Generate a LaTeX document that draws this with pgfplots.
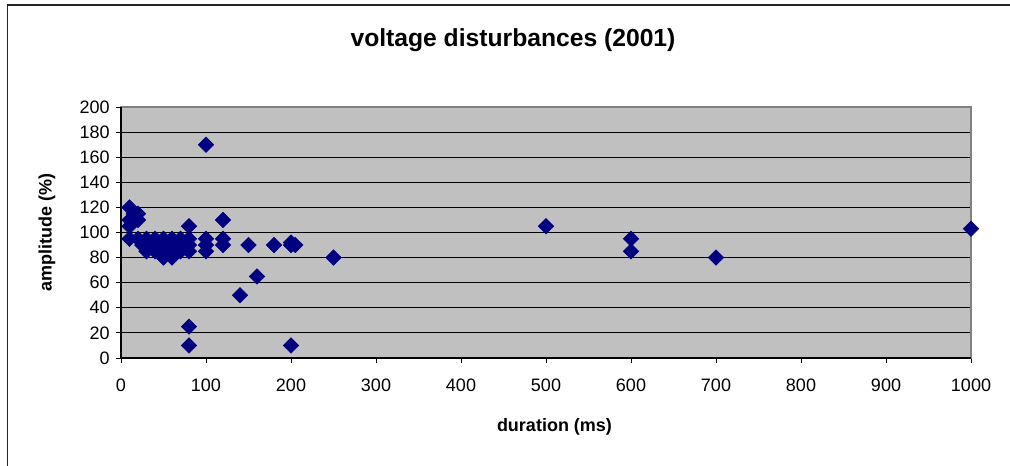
\documentclass[border=0pt]{standalone}
\usepackage{fontspec}
\setmainfont{Liberation Sans}
\usepackage{pgfplots}
\pgfplotsset{compat=1.18}
\definecolor{plotgray}{RGB}{192,192,192}
\definecolor{navymark}{RGB}{0,0,128}

\begin{document}
\begin{tikzpicture}
    % fixed page: 1010x466 px at 0.75pt/px, axis box at (121..971, 107..358)
    \useasboundingbox (-90.75pt,-81pt) rectangle (666.75pt,268.5pt);
    \draw[line width=1.1pt, black!85] (-85pt,-120pt) -- (-85pt,264.75pt) -- (720pt,264.75pt);
    \begin{axis}[
        name=ax,
        at={(0,0)}, anchor=south west,
        scale only axis,
        width=637.5pt, height=188.25pt,
        xmin=0, xmax=1000,
        ymin=0, ymax=200,
        xtick={0,100,...,1000},
        ytick={0,20,...,200},
        axis background/.style={fill=plotgray},
        axis line style={draw=gray, line width=1.2pt},
        ymajorgrids,
        major grid style={black, line width=0.6pt},
        tick style={black, line width=0.6pt},
        tick align=outside,
        major tick length=4pt,
        xtick pos=bottom, ytick pos=left,
        /pgf/number format/assume math mode=true,
        /pgf/number format/set thousands separator={},
        ticklabel style={font=\fontsize{13.5}{16}\selectfont},
        xticklabel style={yshift=-8pt},
        yticklabel style={xshift=-1pt},
        xlabel={duration (ms)},
        ylabel={amplitude (\%)},
        label style={font=\bfseries\fontsize{13.5}{16}\selectfont},
        xlabel style={at={(axis description cs:0.51,0)}, anchor=center, yshift=-51.75pt},
        ylabel style={at={(axis description cs:0,0.5)}, anchor=center, yshift=55.5pt},
        clip=false,
    ]
    \addplot[only marks, mark=square*, mark size=4.1pt,
             mark options={rotate=45, fill=navymark, draw=navymark}] coordinates {
        (10,120) (15,115) (20,115) (20,110) (10,110) (10,105) (10,95)
        (20,95) (30,95) (40,95) (50,95) (60,95) (70,95) (80,95)
        (25,90) (35,90) (45,90) (55,90) (65,90) (75,90) (80,90)
        (30,85) (40,85) (50,85) (60,85) (70,85) (80,85)
        (50,80) (60,80)
        (80,105) (80,25) (80,10)
        (100,170) (100,95) (100,90) (100,85)
        (120,110) (120,95) (120,90)
        (140,50) (150,90) (160,65) (180,90)
        (200,92) (200,90) (205,90) (200,10)
        (250,80) (500,105) (600,95) (600,85) (700,80) (1000,103)
    };
    \draw[black, line width=0.8pt] (rel axis cs:0,1) -- (rel axis cs:0,0) -- (rel axis cs:1,0);
    \end{axis}
    \node[font=\bfseries\fontsize{18.5}{22}\selectfont] at (294pt,238.5pt) {voltage disturbances (2001)};
\end{tikzpicture}
\end{document}
